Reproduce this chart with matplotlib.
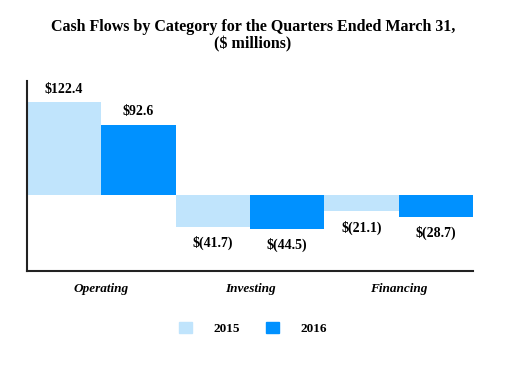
import matplotlib.pyplot as plt
import matplotlib.patches as mpatches
import numpy as np

categories = ['Operating', 'Investing', 'Financing']
years = ['2015', '2016']
vals_2015 = [122.4, -41.7, -21.1]
vals_2016 = [92.6, -44.5, -28.7]
labels_2015 = ['$122.4', '$(41.7)', '$(21.1)']
labels_2016 = ['$92.6', '$(44.5)', '$(28.7)']

c15 = '#C0E4FC'
c16 = '#0091FF'

plt.rcParams['font.family'] = ['Liberation Serif', 'DejaVu Serif']

fig = plt.figure(figsize=(5.06, 3.66), dpi=100)
ax = fig.add_axes([0.0534, 0.2604, 0.8814, 0.5183])

x = np.arange(len(categories))
w = 0.5
ax.bar(x - w / 2, vals_2015, w, color=c15)
ax.bar(x + w / 2, vals_2016, w, color=c16)

for xs, vals, labs in [(x - w / 2, vals_2015, labels_2015), (x + w / 2, vals_2016, labels_2016)]:
    for xi, v, lab in zip(xs, vals, labs):
        if v >= 0:
            ax.annotate(lab, (xi, v), xytext=(0, 4.5), textcoords='offset points',
                        ha='center', va='bottom', fontsize=10, fontweight='bold')
        else:
            ax.annotate(lab, (xi, v), xytext=(0, -6.5), textcoords='offset points',
                        ha='center', va='top', fontsize=10, fontweight='bold')

ax.set_xlim(-0.5, 2.5)
ax.set_ylim(-99, 150)
ax.set_xticks(x)
ax.set_xticklabels(categories, fontsize=9.5, fontweight='bold', style='italic')
ax.tick_params(axis='x', length=0, pad=9)
ax.set_yticks([])
for s in ['top', 'right']:
    ax.spines[s].set_visible(False)
for s in ['left', 'bottom']:
    ax.spines[s].set_linewidth(1.5)
    ax.spines[s].set_color('#222222')

fig.text(0.5, 0.902, 'Cash Flows by Category for the Quarters Ended March 31,\n($ millions)',
         ha='center', va='center', fontsize=11.5, fontweight='bold', linespacing=1.15)

handles = [mpatches.Patch(color=c15, label=years[0]), mpatches.Patch(color=c16, label=years[1])]
fig.legend(handles=handles, loc='center', bbox_to_anchor=(0.5, 0.103), ncol=2, frameon=False,
           handlelength=1.0, handleheight=1.0, handletextpad=1.6, columnspacing=2.0,
           prop={'size': 9.5, 'weight': 'bold'})

fig.savefig('out.png', dpi=100)
